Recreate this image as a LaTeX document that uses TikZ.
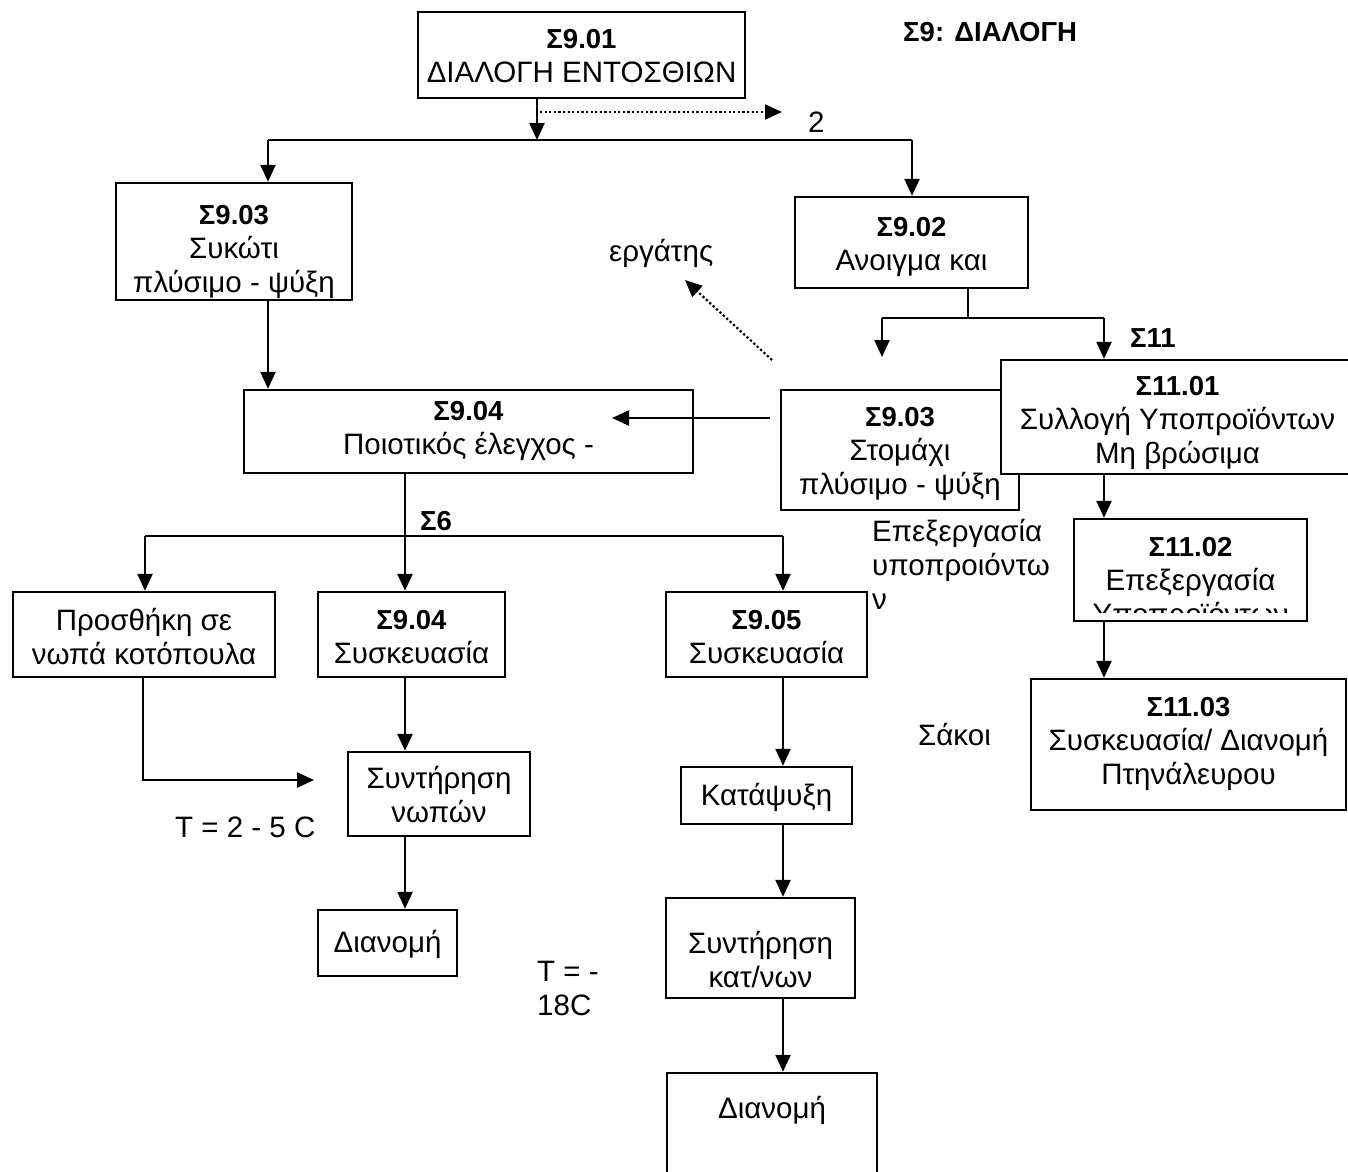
\documentclass[tikz,border=0pt]{standalone}
\usepackage{fontspec}
\setmainfont{Liberation Sans}
\newcommand\headtxt[1]{{\bfseries\fontsize{27.5}{34}\selectfont #1}}
\usetikzlibrary{arrows.meta}
\begin{document}
\begin{tikzpicture}[x=1pt,y=-1pt,
  every node/.style={font=\fontsize{29.5}{34}\selectfont, inner sep=0pt},
  box/.style={draw, line width=2.4pt, align=center, fill=white},
  txt/.style={align=center},
  conn/.style={line width=2.4pt},
  arr/.style={conn, -{Triangle[length=17pt,width=15pt]}},
  dotarr/.style={line width=2.2pt, dash pattern=on 2.2pt off 2.4pt, -{Triangle[length=17pt,width=15pt]}},
  lbl/.style={align=left, anchor=west}]
\useasboundingbox (0,0) rectangle (1348,1171);

% ---- boxes ----
\node[box, minimum width=327, minimum height=86] (s901) at (581.5,55) {};
\node[txt] (s901t) at (581.5,56) {\headtxt{Σ9.01}\\ΔΙΑΛΟΓΗ ΕΝΤΟΣΘΙΩΝ};
\node[box, minimum width=236, minimum height=117] (s903a) at (234,241.5) {};
\node[txt] (s903at) at (234,252) {\headtxt{Σ9.03}\\Συκώτι\\πλύσιμο - ψύξη};
\node[box, minimum width=233, minimum height=91] (s902) at (911.5,242.5) {};
\node[txt] (s902t) at (911.5,247) {\headtxt{Σ9.02}\\Ανοιγμα και};
\node[box, minimum width=238, minimum height=120] (s903b) at (900,450) {};
\node[txt] (s903bt) at (900,454) {\headtxt{Σ9.03}\\Στομάχι\\πλύσιμο - ψύξη};
\node[box, minimum width=353, minimum height=114] (s1101) at (1177.5,417) {};
\node[txt] (s1101t) at (1177.5,423) {\headtxt{Σ11.01}\\Συλλογή Υποπροϊόντων\\Μη βρώσιμα};
\node[box, minimum width=449, minimum height=83] (s904) at (468.5,431.5) {};
\node[txt] (s904t) at (468.5,431) {\headtxt{Σ9.04}\\Ποιοτικός έλεγχος -};
\node[box, minimum width=233, minimum height=102] (s1102) at (1190.5,570) {};
\begin{scope}
  \clip (1076,521) rectangle (1305,612);
  \node[txt] (s1102t) at (1190.5,584) {\headtxt{Σ11.02}\\Επεξεργασία\\Υποπροϊόντων};
\end{scope}
\node[box, minimum width=315, minimum height=131] (s1103) at (1188.5,744.5) {};
\node[txt] (s1103t) at (1188.5,744) {\headtxt{Σ11.03}\\Συσκευασία/ Διανομή\\Πτηνάλευρου};
\node[box, minimum width=262, minimum height=85] (add) at (144,634.5) {};
\node[txt] (addt) at (144,637) {Προσθήκη σε\\νωπά κοτόπουλα};
\node[box, minimum width=187, minimum height=85] (s904b) at (411.5,634.5) {};
\node[txt] (s904bt) at (411.5,637) {\headtxt{Σ9.04}\\Συσκευασία};
\node[box, minimum width=201, minimum height=85] (s905) at (766.5,634.5) {};
\node[txt] (s905t) at (766.5,637) {\headtxt{Σ9.05}\\Συσκευασία};
\node[box, minimum width=182, minimum height=84] (fresh) at (439,794) {};
\node[txt] (fresht) at (439,795) {Συντήρηση\\νωπών};
\node[box, minimum width=139, minimum height=66] (dist1) at (387.5,943) {};
\node[txt] (dist1t) at (387.5,944) {Διανομή};
\node[box, minimum width=171, minimum height=57] (freeze) at (766.5,795.5) {};
\node[txt] (freezet) at (766.5,797) {Κατάψυξη};
\node[box, minimum width=189, minimum height=100] (keep) at (760.5,948) {};
\node[txt] (keept) at (760.5,960) {Συντήρηση\\κατ/νων};
\node[box, minimum width=210, minimum height=110] (dist2) at (772,1128) {};
\node[txt] (dist2t) at (772,1110) {Διανομή};

% ---- free labels ----
\node[lbl] (title) at (903,32) {\headtxt{Σ9: ΔΙΑΛΟΓΗ}};
\node[lbl] (two) at (808,122) {2};
\node[lbl] (worker) at (609,253) {εργάτης};
\node[lbl] (t11) at (1130,338) {\headtxt{Σ11}};
\node[lbl] (t6) at (420,521) {\headtxt{Σ6}};
\node[lbl] (proc) at (872,564) {Επεξεργασία\\υποπροιόντω\\ν};
\node[lbl] (bags) at (918,735) {Σάκοι};
\node[lbl] (tfresh) at (175,827) {T = 2 - 5 C};
\node[lbl] (tfrozen) at (537,988) {T = -\\18C};

% ---- junction points ----
\coordinate (j1) at (537,140);
\coordinate (jl) at (268,140);
\coordinate (jr) at (912,140);
\coordinate (d1) at (540,112);
\coordinate (d2) at (782,112);
\coordinate (j2) at (968,318);
\coordinate (j2l) at (882,318);
\coordinate (j2r) at (1104,318);
\coordinate (e2l) at (882,357);
\coordinate (w1) at (772,360);
\coordinate (w2) at (685,280);
\coordinate (h1) at (770,418);
\coordinate (h2) at (612,418);
\coordinate (j3) at (405,536);
\coordinate (j3l) at (145,536);
\coordinate (j3r) at (783,536);
\coordinate (k1) at (143,780);
\coordinate (k2) at (314,780);

% ---- connectors ----
\draw[arr] (s901.south -| j1) -- (j1);
\draw[conn] (jl) -- (jr);
\draw[arr] (jl) -- (s903a.north -| jl);
\draw[arr] (jr) -- (s902.north -| jr);
\draw[dotarr] (d1) -- (d2);
\draw[conn] (s902.south -| j2) -- (j2);
\draw[conn] (j2l) -- (j2r);
\draw[arr] (j2l) -- (e2l);
\draw[arr] (j2r) -- (s1101.north -| j2r);
\draw[dotarr] (w1) -- (w2);
\draw[arr] (h1) -- (h2);
\draw[arr] (s903a.south -| jl) -- (s904.north -| jl);
\draw[conn] (s904.south -| j3) -- (j3);
\draw[conn] (j3l) -- (j3r);
\draw[arr] (j3l) -- (add.north -| j3l);
\draw[arr] (j3) -- (s904b.north -| j3);
\draw[arr] (j3r) -- (s905.north -| j3r);
\draw[arr] (add.south -| k1) -- (k1) -- (k2);
\draw[arr] (s904b.south -| j3) -- (fresh.north -| j3);
\draw[arr] (fresh.south -| j3) -- (dist1.north -| j3);
\draw[arr] (s905.south -| j3r) -- (freeze.north -| j3r);
\draw[arr] (freeze.south -| j3r) -- (keep.north -| j3r);
\draw[arr] (keep.south -| j3r) -- (dist2.north -| j3r);
\draw[arr] (s1101.south -| j2r) -- (s1102.north -| j2r);
\draw[arr] (s1102.south -| j2r) -- (s1103.north -| j2r);
\end{tikzpicture}
\end{document}
